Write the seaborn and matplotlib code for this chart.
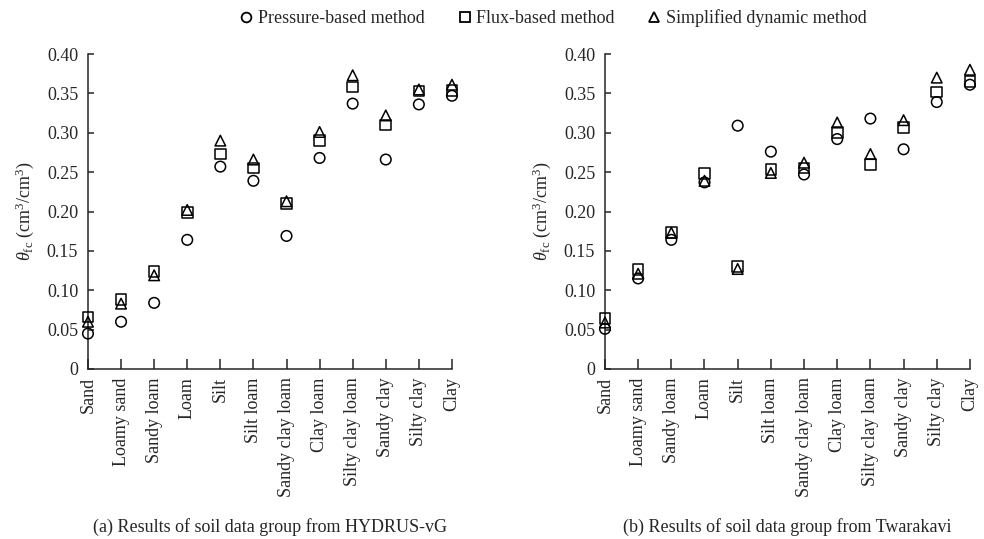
import matplotlib
matplotlib.use('Agg')
import matplotlib.pyplot as plt
from matplotlib.lines import Line2D
import seaborn as sns
import numpy as np
import pandas as pd

soils = ['Sand', 'Loamy sand', 'Sandy loam', 'Loam', 'Silt', 'Silt loam',
         'Sandy clay loam', 'Clay loam', 'Silty clay loam', 'Sandy clay',
         'Silty clay', 'Clay']
methods = ['Pressure-based method', 'Flux-based method', 'Simplified dynamic method']

# (a) HYDRUS-vG
hyd_pressure = [0.045, 0.060, 0.084, 0.164, 0.257, 0.239, 0.169, 0.268, 0.337, 0.266, 0.336, 0.347]
hyd_flux     = [0.066, 0.088, 0.124, 0.199, 0.273, 0.255, 0.210, 0.290, 0.358, 0.310, 0.353, 0.354]
hyd_dynamic  = [0.060, 0.083, 0.119, 0.202, 0.290, 0.266, 0.213, 0.301, 0.373, 0.322, 0.355, 0.361]

# (b) Twarakavi
twa_pressure = [0.051, 0.115, 0.164, 0.237, 0.309, 0.276, 0.247, 0.292, 0.318, 0.279, 0.339, 0.361]
twa_flux     = [0.064, 0.126, 0.173, 0.248, 0.130, 0.253, 0.255, 0.300, 0.260, 0.307, 0.352, 0.365]
twa_dynamic  = [0.059, 0.121, 0.173, 0.239, 0.127, 0.249, 0.262, 0.313, 0.273, 0.316, 0.370, 0.380]

captions = ['(a) Results of soil data group from HYDRUS-vG',
            '(b) Results of soil data group from Twarakavi']
yticks = [0, 0.05, 0.10, 0.15, 0.20, 0.25, 0.30, 0.35, 0.40]
ytick_labels = ['0', '0.05', '0.10', '0.15', '0.20', '0.25', '0.30', '0.35', '0.40']


def long_form(series):
    rows = []
    for m, vals in zip(methods, series):
        for i, (s, v) in enumerate(zip(soils, vals)):
            rows.append({'pos': i, 'soil': s, 'method': m, 'value': v})
    return pd.DataFrame(rows)


sns.set_style('ticks')
plt.rcParams['font.family'] = ['Liberation Serif', 'DejaVu Serif']
plt.rcParams['mathtext.fontset'] = 'custom'
plt.rcParams['mathtext.rm'] = 'Liberation Serif'
plt.rcParams['mathtext.it'] = 'Liberation Serif:italic'
plt.rcParams['axes.linewidth'] = 1.1
plt.rcParams['xtick.direction'] = 'in'
plt.rcParams['ytick.direction'] = 'in'

fig = plt.figure(figsize=(9.84, 5.39), dpi=100)
ax_a = fig.add_axes([0.0894, 0.3154, 0.3699, 0.5844])
ax_b = fig.add_axes([0.6148, 0.3154, 0.3709, 0.5844])

marker_map = {'Pressure-based method': 'o', 'Flux-based method': 's',
              'Simplified dynamic method': '^'}

panels = [(ax_a, [hyd_pressure, hyd_flux, hyd_dynamic]),
          (ax_b, [twa_pressure, twa_flux, twa_dynamic])]

for k, (ax, series) in enumerate(panels):
    df = long_form(series)
    sns.scatterplot(data=df, x='pos', y='value', style='method',
                    style_order=methods, markers=marker_map, s=58,
                    facecolor='none', edgecolor='black', linewidth=1.1,
                    legend=False, clip_on=False, ax=ax, zorder=3)
    ax.set_xlim(0, 11)
    ax.set_ylim(0, 0.40)
    ax.set_xticks(range(len(soils)))
    ax.set_xticklabels(soils, rotation=90, fontsize=13)
    ax.set_yticks(yticks)
    ax.set_yticklabels(ytick_labels, fontsize=13)
    ax.tick_params(axis='x', direction='in', length=7, width=1.1, pad=6)
    ax.tick_params(axis='y', direction='in', length=4, width=1.1, pad=7)
    ax.set_xlabel('')
    ax.set_ylabel(r'$\theta_{\rm fc}$ (cm$^3$/cm$^3$)', fontsize=13, labelpad=8)
    sns.despine(ax=ax)
    box = ax.get_position()
    fig.text(box.x0 + box.width / 2, 0.022, captions[k], fontsize=13,
             ha='center', va='center')

handles = [Line2D([], [], linestyle='none', marker=marker_map[m], markersize=7,
                  markerfacecolor='none', markeredgecolor='black',
                  markeredgewidth=1.3) for m in methods]
fig.legend(handles, methods, loc='center', bbox_to_anchor=(0.562, 1 - 18 / 539),
           ncol=3, frameon=False, fontsize=13, handlelength=0.8,
           handletextpad=0.25, columnspacing=1.8)

fig.savefig('out.png', dpi=100)
